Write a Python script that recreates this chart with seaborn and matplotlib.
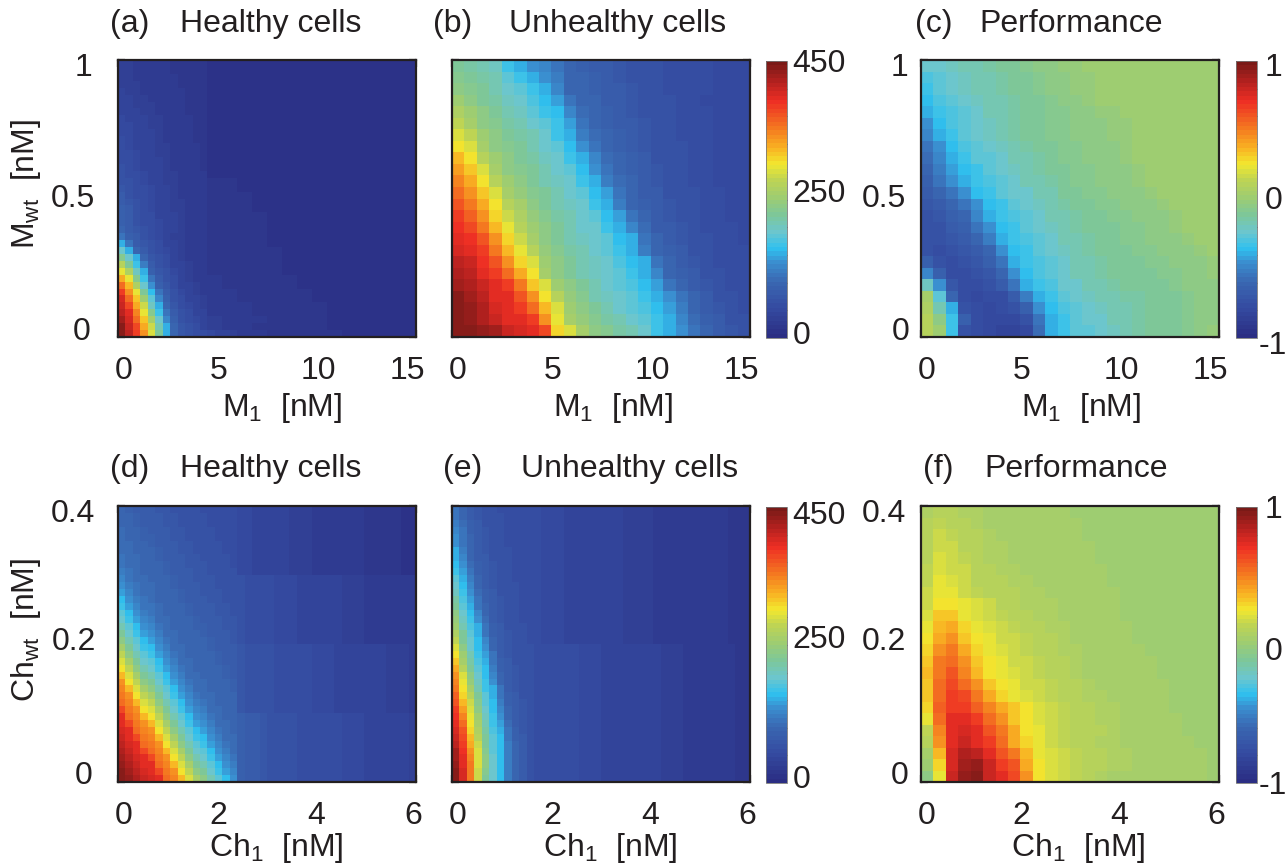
import numpy as np
import matplotlib
matplotlib.use("Agg")
import matplotlib.pyplot as plt
import seaborn as sns
from matplotlib.colors import LinearSegmentedColormap
from matplotlib.ticker import FixedLocator
from matplotlib.transforms import Affine2D

# All grids: % of the colour scale, top row first.
healthy_m = [
 [7,7,6,6,5,5,5,4,4,4,4,4]+[3]*28, [7,7,6,6,5,5,5,4,4,4,4,4]+[3]*28,
 [7,7,6,6,6,5,5,5,4,4,4,4]+[3]*28, [7,7,7,6,6,5,5,5,4,4,4,4]+[3]*28,
 [8,7,7,6,6,6,5,5,5,4,4,4]+[3]*28, [8,8,7,7,6,6,5,5,5,4,4,4]+[3]*28,
 [8,8,7,7,7,6,6,5,5,4,4,4]+[3]*28, [9,8,8,7,7,6,6,5,5,4,4,4]+[3]*28,
 [10,9,8,8,7,7,6,5,5,5,4,4]+[3]*28, [10,10,9,8,7,7,6,6,5,5,4,4]+[3]*28,
 [10,10,9,8,8,7,6,6,5,5,4,4]+[3]*28, [11,10,9,8,8,7,6,6,5,5,4,4]+[3]*28,
 [11,10,9,9,8,7,7,6,5,5,5,4]+[3]*28, [12,11,10,9,8,7,7,6,6,5,5,4]+[3]*28,
 [12,11,10,9,8,8,7,6,6,5,5,4]+[3]*28, [13,12,10,9,9,8,7,6,6,5,5,4]+[3]*28,
 [14,12,11,10,9,8,7,7,6,5,5,5]+[3]*28, [14,13,11,10,9,8,7,7,6,6,5,5]+[4]*4+[3]*24,
 [15,13,12,11,10,8,8,7,6,6,5,5]+[4]*4+[3]*24, [16,14,12,11,10,9,8,7,6,6,5,5]+[4]*6+[3]*22,
 [17,15,13,12,10,9,8,7,7,6,5,5]+[4]*6+[3]*22, [18,16,14,12,10,9,8,7,7,6,5,5]+[4]*6+[3]*22,
 [18,16,14,12,11,9,8,8,7,6,6,5]+[4]*8+[3]*20, [18,16,14,12,11,10,9,8,7,6,6,5]+[4]*8+[3]*20,
 [20,17,15,13,12,10,9,8,7,6,6,5]+[4]*8+[3]*20, [22,18,16,14,12,10,9,7,7,6,5,5]+[4]*8+[3]*20,
 [30,22,17,15,13,11,9,8,7,6,6,5]+[4]*8+[3]*20, [38,30,20,16,14,12,10,8,7,6,6,5]+[4]*10+[3]*18,
 [46,38,30,19,15,13,11,9,7,6,6,5]+[4]*10+[3]*18, [56,44,34,24,16,14,12,9,8,7,6,5]+[4]*10+[3]*18,
 [62,54,40,30,18,15,13,10,8,7,6,6]+[4]*10+[3]*18, [70,62,46,34,22,16,14,11,9,7,6,6]+[5]*2+[4]*10+[3]*16,
 [78,68,54,38,28,18,15,12,9,8,7,6]+[5]*2+[4]*10+[3]*16, [84,72,62,44,32,22,16,13,10,8,7,6]+[5]*4+[4]*10+[3]*14,
 [88,78,66,50,36,26,18,14,11,9,8,7]+[5]*4+[4]*10+[3]*14, [90,82,70,58,40,30,20,15,12,10,9,7]+[6]*2+[5]*4+[4]*10+[3]*12,
 [92,86,74,62,46,34,22,16,13,11,9,8]+[6]*2+[5]*4+[4]*10+[3]*12, [95,88,78,66,52,38,26,18,14,12,10,8]+[7]*2+[5]*6+[4]*8+[3]*12,
 [97,90,82,70,58,42,30,19,15,13,11,9]+[7]*2+[6]*4+[4]*10+[3]*12, [98,92,84,72,60,44,30,20,15,13,12,11,10,9,8,7]+[6]*4+[4]*10+[3]*10,
]

unhealthy_m = [
 [44,43,42,40,33,31,28,25,23,20,18,17,16,15,14,13,13,12,12,11,11,10,10,10],
 [46,45,43,41,36,33,30,28,24,20,19,18,17,15,14,14,13,12,12,11,11,10,10,10],
 [48,46,44,41,38,36,33,31,25,20,19,18,17,16,15,14,13,12,12,11,11,10,10,10],
 [51,48,45,43,40,38,35,32,29,23,20,19,17,16,15,14,13,13,12,11,10,10,10,10],
 [54,50,47,44,42,40,37,33,32,25,21,19,18,17,15,14,13,13,12,11,11,10,10,10],
 [57,53,48,46,43,41,39,36,33,29,23,20,18,17,16,15,13,13,12,11,11,10,10,10],
 [60,57,50,47,45,43,41,38,34,31,24,21,19,18,17,15,14,13,12,12,11,10,10,10],
 [64,60,53,48,46,44,42,39,36,32,28,22,20,18,17,15,14,13,13,12,11,10,10,10],
 [68,63,56,50,47,45,43,40,38,33,31,25,21,19,18,16,14,13,13,12,11,10,10,10],
 [71,66,60,53,48,46,44,41,39,36,32,28,22,20,18,16,15,14,13,12,11,10,10,10],
 [74,70,63,55,50,47,45,42,40,38,33,31,24,21,19,17,15,14,13,12,11,10,10,10],
 [78,72,66,60,53,49,46,44,41,39,36,32,29,22,20,17,16,14,13,13,11,11,10,10],
 [81,75,70,63,56,52,48,45,42,40,38,34,31,24,20,18,16,15,13,13,12,11,10,10],
 [83,79,73,65,59,54,49,46,43,41,38,36,32,29,22,19,17,15,14,13,12,11,10,10],
 [85,82,76,68,62,56,50,47,44,41,39,38,34,31,25,21,17,16,15,13,12,11,11,10],
 [87,85,80,72,65,59,52,48,45,42,40,38,36,32,30,22,19,17,15,14,13,11,11,10],
 [89,87,83,76,68,62,55,49,46,43,41,39,37,34,31,24,20,18,16,14,13,12,11,11],
 [91,90,85,80,73,65,60,50,47,44,41,40,38,35,32,30,23,19,17,15,13,12,11,11],
 [93,92,87,84,78,70,63,52,48,45,42,40,38,36,33,31,26,20,18,16,14,13,12,11],
 [95,93,90,86,83,75,66,60,50,47,44,41,39,37,35,32,29,23,20,17,15,13,12,11],
 [97,95,92,87,86,80,72,63,55,49,46,42,40,38,37,34,30,27,22,19,16,14,13,12],
 [97,96,93,89,87,84,78,68,60,50,47,44,41,39,37,35,32,29,24,20,17,15,13,12],
 [97,96,93,90,87,86,83,72,62,52,49,46,43,41,38,37,33,30,25,21,18,16,14,13],
 [98,97,96,94,90,88,86,82,65,60,52,48,46,43,41,38,34,30,28,22,19,17,15,14],
]

perf_m = [
 [38,39,40,41,42,43,44,45,46,47,48,49,49]+[50]*11,
 [35,37,39,40,41,42,43,44,45,46,47,48,49,49]+[50]*10,
 [33,36,38,40,41,42,43,44,45,46,47,48,49,49]+[50]*10,
 [32,35,36,38,40,41,42,43,44,45,46,47,48,49]+[50]*10,
 [30,33,35,37,39,41,42,43,44,45,46,46,47,48,49,49]+[50]*8,
 [27,32,35,37,39,40,42,43,44,45,46,46,47,48,48,49,49]+[50]*7,
 [25,31,34,37,39,40,42,43,44,45,46,46,47,48,48,49,49]+[50]*7,
 [23,28,32,35,37,39,40,42,43,44,45,46,46,47,48,48,49]+[50]*7,
 [21,26,31,33,36,37,39,41,42,43,45,46,46,47,48,48,49]+[50]*7,
 [19,24,29,32,34,36,38,40,41,43,44,45,46,46,47,48,48,49]+[50]*6,
 [18,22,27,31,33,35,37,39,41,42,43,45,46,46,47,48,48,49]+[50]*6,
 [16,19,23,28,32,33,36,38,39,41,42,44,45,46,46,47,47,48,49]+[50]*5,
 [15,17,20,23,28,32,34,36,38,40,41,43,44,45,46,46,47,47,48,49]+[50]*4,
 [14,15,18,20,25,30,33,35,37,39,41,42,43,44,45,46,46,47,47,48,49]+[50]*3,
 [13,14,17,18,22,27,32,34,37,38,40,41,43,44,45,45,46,46,47,48,49]+[50]*3,
 [13,13,15,16,19,24,30,33,35,37,39,41,42,43,44,45,46,46,47,47,48,49,50,50],
 [13,12,13,15,17,20,28,32,34,36,38,40,42,43,44,45,45,46,46,47,48,48,49,50],
 [18,14,12,13,15,18,23,30,33,35,37,39,41,42,43,44,45,45,46,46,47,48,48,49],
 [26,18,11,11,13,15,19,28,32,35,37,39,41,42,43,44,44,45,45,46,46,47,48,49],
 [40,27,15,11,12,13,16,22,30,33,35,38,39,41,42,43,44,44,45,45,46,47,47,48],
 [52,36,20,11,10,11,12,16,24,30,33,36,38,40,41,42,43,43,44,45,45,46,47,48],
 [54,42,30,14,11,10,11,13,18,27,32,35,37,39,40,41,42,43,44,44,45,46,47,48],
 [55,48,34,18,11,10,10,10,14,23,31,34,36,38,39,41,42,43,44,44,45,46,47,48],
 [56,50,33,13,11,10,9,9,10,21,31,33,36,37,38,40,41,43,44,45,45,46,47,49],
]

# Right-hand parts of the lower-row grids.
H1 = [10,10,9,9,8,8,8,7,7,7,6,6,6,5,5,5,5,4,4,4,4,4,3,3]
H2 = [13,12,12,11,11,10,10,10,9,9,9,8,8,8,7,7,7,6,6,6,6,5,5,5]
H3 = [15,14,14,13,13,12,12,11,11,11,10,10,10,9,9,9,8,8,8,8,7,7,7,6]
H4 = [18,17,16,15,14,14,13,13,12,12,12,11,11,11,10,10,10,9,9,9,8,8,8,7]
E1 = [11,11,10,10,10,9,9,9,9,8,8,8,8,7,7,7,7,6,6,6,6,6,5,5,5,5,5,4,4,4]
E2 = [13,12,12,12,11,11,11,10,10,10,9,9,9,9,8,8,8,8,7,7,7,6,6,6,5,5,5,5,4,4]

healthy_ch = [
 [20,18,17,16,16,15,15,14,14,13,13,12,12,12,11,11]+H1,
 [20,19,18,17,16,16,15,15,14,14,13,13,12,12,11,11]+H1,
 [20,20,18,17,16,16,15,15,14,14,13,13,12,12,12,11]+H1,
 [21,20,19,18,17,16,16,15,15,14,14,13,13,12,12,11]+H1,
 [21,20,20,18,18,17,16,15,15,14,14,14,13,12,12,12]+H1,
 [21,21,20,19,18,17,16,16,15,15,14,14,13,13,12,12]+H1,
 [21,21,20,20,19,18,17,16,15,15,14,14,14,13,12,12]+H1,
 [22,21,21,20,20,18,17,16,16,15,15,14,14,13,13,12]+H1,
 [22,21,21,20,20,19,18,17,16,15,15,15,14,14,13,12]+H1,
 [24,22,21,20,20,20,18,17,16,16,15,15,14,14,13,13]+H1,
 [25,22,21,21,20,20,19,18,17,16,15,15,15,14,14,13]+H2,
 [27,24,22,21,21,20,20,18,17,16,16,15,15,14,14,13]+H2,
 [29,25,22,21,21,20,20,19,18,17,16,15,15,15,14,14]+H2,
 [32,27,24,22,21,20,20,20,18,17,16,16,15,15,14,14]+H2,
 [34,29,25,22,22,21,20,20,19,18,17,16,16,15,15,14]+H2,
 [36,32,27,24,22,21,20,20,20,18,17,16,16,15,15,14]+H2,
 [38,34,29,25,24,21,21,20,20,19,18,17,16,16,15,15]+H2,
 [41,36,32,27,25,22,21,20,20,20,18,18,17,16,15,15]+H2,
 [44,38,34,29,27,24,21,21,20,20,19,18,17,16,16,15]+H2,
 [47,41,36,32,29,25,22,21,20,20,20,19,18,17,16,15]+H2,
 [52,44,38,34,32,27,24,21,21,20,20,20,18,17,16,16]+H3,
 [57,47,41,36,34,29,25,22,21,20,20,20,19,18,17,16]+H3,
 [60,52,44,38,36,32,27,24,21,21,20,20,20,18,17,16]+H3,
 [63,57,47,41,38,34,29,25,22,21,20,20,20,19,18,17]+H3,
 [68,60,52,44,41,36,32,27,24,21,21,20,20,20,18,17]+H3,
 [72,63,57,47,44,38,34,29,25,22,21,21,20,20,19,18]+H3,
 [74,68,60,52,47,41,36,32,27,24,21,21,20,20,20,18]+H3,
 [76,72,63,57,52,44,38,34,29,25,22,21,21,20,20,19]+H3,
 [78,74,68,60,57,47,41,36,32,27,24,22,21,20,20,20]+H3,
 [82,76,72,63,60,52,44,38,34,29,25,24,21,21,20,20]+H3,
 [86,78,74,68,63,57,47,41,36,32,27,25,22,21,20,20]+H4,
 [87,82,76,72,68,60,52,44,38,34,29,27,24,21,21,20]+H4,
 [88,86,78,74,72,63,57,47,41,36,32,29,25,22,21,20]+H4,
 [90,87,82,76,74,68,60,52,44,38,34,32,27,24,21,21]+H4,
 [92,88,86,78,76,72,63,57,47,41,36,34,29,25,22,21]+H4,
 [93,90,87,82,78,74,68,60,52,44,38,36,32,27,24,21]+H4,
 [95,92,88,86,82,76,72,63,57,47,41,38,34,29,25,22]+H4,
 [96,93,90,87,86,78,74,68,60,52,44,41,36,32,27,24]+H4,
 [97,95,92,88,87,82,76,72,63,57,47,44,38,34,29,25]+H4,
 [98,96,93,90,88,86,78,74,68,60,52,47,41,36,32,27]+H4,
]

unhealthy_ch = [
 [22,19,17,15,14,13,12,12,11,11]+E1, [23,20,17,15,14,13,13,12,11,11]+E1,
 [24,21,18,16,14,13,13,12,11,11]+E1, [25,22,18,16,15,14,13,12,12,11]+E1,
 [27,22,19,16,15,14,13,12,12,11]+E1, [28,23,19,17,15,14,13,12,12,11]+E1,
 [30,24,20,17,15,14,13,13,12,11]+E1, [31,25,20,17,16,14,13,13,12,11]+E1,
 [32,27,21,18,16,15,14,13,12,11]+E1, [34,29,22,18,16,15,14,13,12,11]+E1,
 [36,31,24,19,17,15,14,13,12,12]+E1, [38,32,25,20,17,15,14,13,13,12]+E1,
 [40,33,27,21,18,16,14,13,13,12]+E1, [43,35,29,22,18,16,15,14,13,12]+E1,
 [45,37,31,23,19,16,15,14,13,12]+E1, [47,38,32,25,20,17,15,14,13,12]+E1,
 [49,40,33,27,21,17,15,14,13,12]+E1, [51,42,35,30,22,18,16,14,13,13]+E1,
 [54,44,36,31,23,18,16,15,14,13]+E1, [57,45,38,32,25,19,16,15,14,13]+E1,
 [60,47,39,32,27,20,17,15,14,13]+E2, [63,50,41,33,29,22,17,15,14,13]+E2,
 [66,52,43,35,31,23,18,16,14,13]+E2, [70,55,45,37,32,24,18,16,15,14]+E2,
 [72,60,47,38,32,26,19,16,15,14]+E2, [74,62,49,40,33,28,20,17,15,14]+E2,
 [76,63,52,42,34,30,22,17,15,14]+E2, [79,65,56,44,36,31,23,18,16,14]+E2,
 [81,68,58,46,37,32,24,18,16,15]+E2, [83,71,60,47,38,32,25,19,16,15]+E2,
 [85,74,62,50,40,33,27,20,17,15]+E2, [87,78,63,52,42,34,29,21,17,15]+E2,
 [88,80,65,54,43,35,31,22,18,15]+E2, [90,82,68,56,44,36,32,23,18,16]+E2,
 [92,83,70,58,45,37,32,24,19,16]+E2, [94,85,72,60,46,37,32,24,19,16]+E2,
 [95,86,74,60,47,38,32,24,19,16]+E2, [96,87,75,60,47,38,32,24,20,16]+E2,
 [97,88,76,59,46,38,32,24,20,16]+E2, [98,88,76,58,45,38,32,24,20,16]+E2,
]

perf_ch = [
 [54,56,55,54,54,53,53,53,52,52,52,52]+[51]*3+[50]*9,
 [55,57,56,55,54,53,53,53,53,52,52,52,52]+[51]*3+[50]*8,
 [55,58,57,55,55,54,53,53,53,53,52,52,52]+[51]*3+[50]*8,
 [55,59,58,56,55,54,54,53,53,53,52,52,52,52]+[51]*4+[50]*6,
 [56,60,58,57,55,54,54,53,53,53,53,52,52,52]+[51]*4+[50]*6,
 [57,60,59,58,56,55,54,54,53,53,53,52,52,52,52]+[51]*4+[50]*5,
 [57,61,60,58,56,55,55,54,54,53,53,53,52,52,52]+[51]*4+[50]*5,
 [58,62,62,59,57,56,55,55,54,54,53,53,52,52,52,52]+[51]*4+[50]*4,
 [59,63,63,61,60,58,56,55,54,54,54,53,53,52,52,52]+[51]*4+[50]*4,
 [60,66,67,62,60,58,57,56,55,54,54,53,53,53,52,52]+[51]*4+[50]*4,
 [61,68,70,65,61,60,58,57,56,55,54,54,53,53,52,52,52]+[51]*4+[50]*3,
 [63,70,72,67,63,61,59,58,57,56,55,54,53,53,52,52,52]+[51]*4+[50]*3,
 [65,72,75,70,65,62,60,58,57,56,55,54,54,53,53,52,52,52]+[51]*4+[50]*2,
 [67,75,78,72,67,63,61,59,58,57,56,55,54,53,53,52,52,52,52]+[51]*3+[50]*2,
 [68,76,80,74,68,64,62,60,58,57,56,55,54,53,53,53,52,52,52]+[51]*3+[50]*2,
 [67,78,82,78,72,67,63,61,59,58,57,56,55,54,53,53,53,52,52,52]+[51]*4,
 [66,78,83,82,76,70,65,62,60,59,57,56,56,54,54,53,53,52,52,52]+[51]*4,
 [65,79,84,83,79,74,70,67,63,60,58,57,56,55,54,54,53,53,52,52]+[51]*4,
 [61,77,86,87,83,78,72,67,63,60,58,57,56,55,54,54,53,53,52,52,52]+[51]*3,
 [57,74,86,88,86,81,75,69,64,61,59,57,56,55,55,54,53,53,52,52,52]+[51]*3,
 [55,72,87,90,87,83,77,70,65,61,59,57,56,55,54,54,53,53,52,52,52,52,51,51],
 [52,68,88,93,92,87,81,76,68,62,60,58,57,56,55,54,54,53,53,52,52,52,52,51],
 [50,65,88,95,96,90,84,80,70,63,60,58,57,55,55,54,54,53,53,53,52,52,52,51],
 [48,62,90,96,97,90,86,82,73,64,60,58,57,55,54,53,53,53,52,52,52,52,52,51],
]

HEALTHY_TITLE, UNHEALTHY_TITLE, PERF_TITLE = "Healthy cells", "Unhealthy cells", "Performance"
M_X_TICKS = [0, 5, 10, 15]
M_Y_TICKS = [0, 0.5, 1]
CH_X_TICKS = [0, 2, 4, 6]
CH_Y_TICKS = [0, 0.2, 0.4]
COUNT_TICKS = [0, 250, 450]
PERF_TICKS = [-1, 0, 1]

W, H = 1287, 867
INK = "#231f20"
FS = 23
sns.set_theme(style="white")
plt.rcParams.update({
    "font.family": ["Liberation Sans", "DejaVu Sans"], "font.size": FS,
    "mathtext.fontset": "custom", "mathtext.rm": "Liberation Sans",
    "text.color": INK, "xtick.color": INK, "ytick.color": INK,
})

stops = [(0, "#2b2e83"), (.1, "#344aa0"), (.2, "#3a68b2"), (.27, "#3a8fd0"), (.32, "#2fc1ef"),
         (.38, "#6cc6ce"), (.44, "#7cc79b"), (.51, "#9fcd70"), (.57, "#bdd355"), (.63, "#f2e82f"),
         (.69, "#f9b122"), (.75, "#f58120"), (.86, "#ee2e24"), (.93, "#b4211f"), (1, "#7a1a17")]
cmap = LinearSegmentedColormap.from_list("muted_jet", stops, N=64)

fig = plt.figure(figsize=(W / 100, H / 100), dpi=100)


def add_axes(x0, y0, x1, y1):
    return fig.add_axes([x0 / W, 1 - y1 / H, (x1 - x0) / W, (y1 - y0) / H])


def shift(labels, offsets):
    for lab, (dx, dy) in zip(labels, offsets):
        lab.set_transform(lab.get_transform() + Affine2D().translate(dx, dy))


def put(x, y, s, **kw):
    fig.text(x / W, 1 - y / H, s, va="center", **kw)


def panel(box, grid, vals, vrange, xticks, yticks, show_y, ypad, xoff, yoff, cbar_box=None, cticks=None, coff=None):
    ax = add_axes(*box)
    n_c = max(len(row) for row in grid)
    arr = np.array([row + [row[-1]] * (n_c - len(row)) for row in grid], dtype=float)
    n_r = arr.shape[0]
    cax = add_axes(*cbar_box) if cbar_box else None
    sns.heatmap(vals(arr), ax=ax, cmap=cmap, vmin=vrange[0], vmax=vrange[1],
                cbar=cax is not None, cbar_ax=cax, xticklabels=False, yticklabels=False, linewidths=0)
    for s in ax.spines.values():
        s.set_visible(True)
        s.set_linewidth(1.6)
        s.set_color(INK)
    ax.set_xticks([v / xticks[-1] * n_c for v in xticks])
    ax.set_xticklabels([f"{v:g}" for v in xticks], rotation=0)
    ax.set_yticks([n_r * (1 - v / yticks[-1]) for v in yticks])
    ax.set_yticklabels([f"{v:g}" for v in yticks] if show_y else [], rotation=0)
    ax.tick_params(axis="both", which="major", direction="in", length=5, width=1.6, top=True, right=True,
                   bottom=True, left=True, labelsize=FS, color=INK)
    ax.tick_params(axis="x", pad=14)
    ax.tick_params(axis="y", pad=ypad)
    shift(ax.get_xticklabels(), xoff)
    if show_y:
        shift(ax.get_yticklabels(), yoff)
    if cax is not None:
        cb = ax.collections[0].colorbar
        cb.set_ticks(cticks)
        cb.set_ticklabels([f"{v:g}" for v in cticks])
        span = cticks[-1] - cticks[0]
        cax.yaxis.set_minor_locator(FixedLocator([cticks[0] + span * k / 10 for k in range(1, 10)]))
        cax.tick_params(axis="y", which="major", direction="in", length=0, pad=4, labelsize=FS, right=True)
        cax.tick_params(axis="y", which="minor", direction="in", length=3, width=0.8, color="#444444", right=True)
        cb.outline.set_linewidth(0.6)
        cb.outline.set_edgecolor("#777777")
        shift(cax.get_yticklabels(), coff)
    return ax


to_count = lambda a: a * 4.5
to_perf = lambda a: (a - 50) / 50
COUNT_RANGE = (0, 450)
PERF_RANGE = (-1, 1)

X_TOP = [(6, 0), (1, 0), (2, 0), (-9, 0)]
X_BOT = [(6, 0), (1, 0), (0, 0), (-3, 0)]
Y_TOP = [(-5, 9), (0, 3), (-3, -5)]
Y_BOT = [(-3, 9), (1, 6), (0, -4)]

panel((118, 60, 416, 337), healthy_m, to_count, COUNT_RANGE, M_X_TICKS, M_Y_TICKS, True, 16.5, X_TOP, Y_TOP)
panel((452, 60, 750, 337), unhealthy_m, to_count, COUNT_RANGE, M_X_TICKS, M_Y_TICKS, False, 0, X_TOP, Y_TOP,
      (766, 61, 787, 338), COUNT_TICKS, [(0, 6), (0, -6), (0, 1)])
panel((921, 60, 1219, 337), perf_m, to_perf, PERF_RANGE, M_X_TICKS, M_Y_TICKS, True, 11, X_TOP, [(4, 9), (0, 3), (3, -5)],
      (1236, 61, 1257, 338), PERF_TICKS, [(-4, -4), (2, 2), (2, -3)])
panel((118, 506, 416, 782), healthy_ch, to_count, COUNT_RANGE, CH_X_TICKS, CH_Y_TICKS, True, 16.5, X_BOT, Y_BOT)
panel((452, 506, 750, 782), unhealthy_ch, to_count, COUNT_RANGE, CH_X_TICKS, CH_Y_TICKS, False, 0, X_BOT, Y_BOT,
      (766, 507, 787, 783), COUNT_TICKS, [(0, 6), (0, -7), (0, -6)])
panel((921, 506, 1219, 782), perf_ch, to_perf, PERF_RANGE, CH_X_TICKS, CH_Y_TICKS, True, 11, X_BOT, [(3, 9), (0, 6), (0, -4)],
      (1236, 507, 1257, 783), PERF_TICKS, [(-4, 1), (2, -3), (2, 1)])

for x, y, s in [(110, 24, "(a)"), (180, 24, HEALTHY_TITLE), (433, 24, "(b)"), (509, 24, UNHEALTHY_TITLE),
                (915, 24, "(c)"), (979, 24, PERF_TITLE), (110, 469, "(d)"), (180, 469, HEALTHY_TITLE),
                (443, 469, "(e)"), (521, 469, UNHEALTHY_TITLE), (923, 469, "(f)"), (984, 469, PERF_TITLE)]:
    put(x, y, s)

for x, s in [(282, r"M$_{\mathrm{1}}$  [nM]"), (613, r"M$_{\mathrm{1}}$  [nM]"), (1081, r"M$_{\mathrm{1}}$  [nM]")]:
    put(x, 408, s, ha="center")
for x, s in [(276, r"Ch$_{\mathrm{1}}$  [nM]"), (610, r"Ch$_{\mathrm{1}}$  [nM]"), (1078, r"Ch$_{\mathrm{1}}$  [nM]")]:
    put(x, 848, s, ha="center")
put(26, 184, r"M$_{\mathrm{wt}}$  [nM]", ha="center", rotation=90)
put(26, 630, r"Ch$_{\mathrm{wt}}$  [nM]", ha="center", rotation=90)

fig.savefig("out.png", dpi=100)
